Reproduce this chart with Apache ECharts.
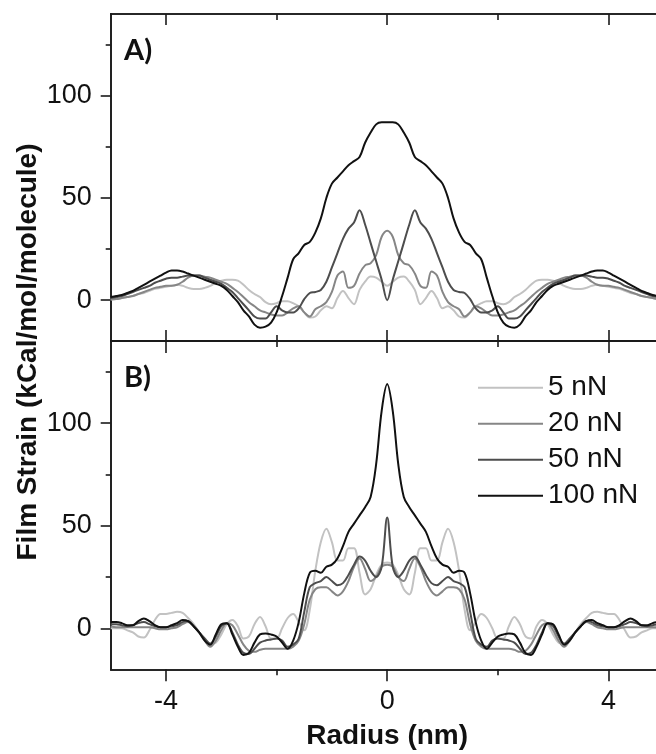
<!DOCTYPE html>
<html>
<head>
<meta charset="utf-8">
<script src="https://cdn.jsdelivr.net/npm/echarts@6/dist/echarts.min.js"></script>
<style>
html,body{margin:0;padding:0;background:#fff;}
#chart{width:656px;height:754px;}
</style>
</head>
<body>
<div id="chart"></div>
<script>
// Radius (nm)
const radius = [-5,-4.9,-4.8,-4.7,-4.6,-4.5,-4.4,-4.3,-4.2,-4.1,-4,-3.9,-3.8,-3.7,-3.6,-3.5,-3.4,-3.3,-3.2,-3.1,-3,-2.9,-2.8,-2.7,-2.6,-2.5,-2.4,-2.3,-2.2,-2.1,-2,-1.9,-1.8,-1.7,-1.6,-1.5,-1.4,-1.3,-1.2,-1.1,-1,-0.9,-0.8,-0.7,-0.6,-0.5,-0.4,-0.3,-0.2,-0.1,0,0.1,0.2,0.3,0.4,0.5,0.6,0.7,0.8,0.9,1,1.1,1.2,1.3,1.4,1.5,1.6,1.7,1.8,1.9,2,2.1,2.2,2.3,2.4,2.5,2.6,2.7,2.8,2.9,3,3.1,3.2,3.3,3.4,3.5,3.6,3.7,3.8,3.9,4,4.1,4.2,4.3,4.4,4.5,4.6,4.7,4.8,4.9,5];

// Panel A
const a5 = [0.3,0.5,1,1.5,2,3,3.5,4.5,5.5,6,6.5,7,7.5,7,6,5.5,5.5,6,7,8.5,9.5,10,10,9.5,7.5,5,3,1.5,-1,-2,-1.5,-0.5,-0.5,-1.5,-3,-6,-8.5,-8,-5,-3,-4,1,4.5,1,-2,5,9,11.5,11,9,
  7,9,11,11.5,9,5,-2,1,4.5,1,-4,-3,-5,-8,-8.5,-6,-3,-1.5,-0.5,-0.5,-1.5,-2,-1,1.5,3,5,7.5,9.5,10,10,9.5,8.5,7,6,5.5,5.5,6,7,7.5,7,6.5,6,5.5,4.5,3.5,3,2,1.5,1,0.5,0.3];
const a20 = [0.3,0.5,1,1.5,2,3,4,5,6,6.5,7,7,7.5,9,11,12,12,11.5,11,10,9,8,6,4,1.5,-1,-3,-5,-6,-7,-7.5,-7.5,-6,-4,-3,-6,-8,-4.5,-3,-1,4,12,14,6,7,13,17,18,22,31,
  34,31,22,18,17,13,7,6,14,12,4,-1,-3,-4.5,-8,-6,-3,-4,-6,-7.5,-7.5,-7,-6,-5,-3,-1,1.5,4,6,8,9,10,11,11.5,12,12,11,9,7.5,7,7,6.5,6,5,4,3,2,1.5,1,0.5,0.3];
const a50 = [1,1.5,2,3,4,5,6,7,8.5,9.5,10.5,11,11,11.5,12,12,12,11,10,9,8,6,4,1,-2,-5,-8,-9,-9,-6,-3,-5,-6,-6,-4,0.5,3.5,4,5,9,16,23,30,35,38,44,37,28,19,10,
  0,10,19,28,37,44,38,35,30,23,16,9,5,4,3.5,0.5,-4,-6,-6,-5,-3,-6,-9,-9,-8,-5,-2,1,4,6,8,9,10,11,12,12,12,11.5,11,11,10.5,9.5,8.5,7,6,5,4,3,2,1.5,1];
const a100 = [1.5,2,2.5,3.5,4.5,6,7.5,9,10.5,12,13.5,14.5,14.5,14,13,12,11,10,9,8,7,5,2,-1,-5,-8,-12,-13.5,-13,-11,-6,2,11,20,23,27,28.5,33,40,50,57,60,63,66,68,70,77,82,86,87,
  87,87,86,82,77,70,68,66,63,60,57,50,40,33,28.5,27,23,20,11,2,-6,-11,-13,-13.5,-12,-8,-5,-1,2,5,7,8,9,10,11,12,13,14,14.5,14.5,13.5,12,10.5,9,7.5,6,4.5,3.5,2.5,2,1.5];

// Panel B
const b5 = [0,0,0,-1,-2,-4,-4.5,-1,4,7,7,7.5,8,7.5,5,2,-2,-6,-7.5,-7,-3,2,4,1,-5,-4,2,5.5,1,-5,-5,0,5,7,3,-1,9,28,42,48.5,42,33,33,39,39,27,16.5,19,26,31,
  32,31,26,19,16.5,27,39,39,33,33,42,48.5,42,28,9,-1,3,7,5,0,-5,-5,1,5.5,2,-4,-5,1,4,2,-3,-7,-7.5,-6,-2,2,5,7.5,8,7.5,7,7,4,-1,-4.5,-4,-2,-1,0,0,0];
const b20 = [1,0.5,0.5,0.5,0.5,0.5,0.5,0.5,0,-0.5,-0.5,0,0.5,2,3,1,-2,-6,-9,-6,-1,2.5,1.5,-3,-8,-11,-11.5,-10.5,-10,-10,-10,-10,-10,-9,-6,2,14,19,20,20,18,16,18,23,30,34,29,23,25,30,
  31,30,25,23,29,34,30,23,18,16,18,20,20,19,14,2,-6,-9,-10,-10,-10,-10,-10,-10.5,-11.5,-11,-8,-3,1.5,2.5,-1,-6,-9,-6,-2,1,3,2,0.5,0,-0.5,-0.5,0,0.5,0.5,0.5,0.5,0.5,0.5,0.5,1];
const b50 = [2,2,1.5,1,1.5,2.5,3,2,1,0.5,0.5,1,1.5,3,3.5,1,-2,-5,-7.5,-4,1,2.5,-2,-8,-12,-12.5,-10,-7,-6,-5.5,-5,-6,-9,-8,-5,8,20,22,23,25,23,21,22,26,31,35,33,28,25,30,
  54,30,25,28,33,35,31,26,22,21,23,25,23,22,20,8,-5,-8,-9,-6,-5,-5.5,-6,-7,-10,-12.5,-12,-8,-2,2.5,1,-4,-7.5,-5,-2,1,3.5,3,1.5,1,0.5,0.5,1,2,3,2.5,1.5,1,1.5,2,2];
const b100 = [3,3,2.5,1.5,1.5,3.5,4.8,3.5,1.5,0.5,0.5,1.5,2.5,4,3.5,1,-2,-6,-8,-3,2,2.5,-3,-9,-13,-12,-7,-3,-2.5,-3,-4,-7,-10,-6,3,17,27,28,27,30,31,34,40,47,51,55,59,64,80,106,
  119,106,80,64,59,55,51,47,40,34,31,30,27,28,27,17,3,-6,-10,-7,-4,-3,-2.5,-3,-7,-12,-13,-9,-3,2.5,2,-3,-8,-6,-2,1,3.5,4,2.5,1.5,0.5,0.5,1.5,3.5,4.8,3.5,1.5,1.5,2.5,3,3];

const seriesNames = ['5 nN','20 nN','50 nN','100 nN'];
const seriesColors = ['#c2c2c2','#868686','#4d4d4d','#111111'];
const xMajorTicks = [-4,0,4];
const xMinorTicks = [-2,2];
const yMajorTicks = [0,50,100];
const yMinorTicks = [25,75,125];

const chart = echarts.init(document.getElementById('chart'), null, {renderer:'canvas'});

const AX = '#1a1a1a';
const FONT = '"Liberation Sans", Arial, sans-serif';

function xAx(grid, pos, vals, len, labels, extra) {
  return Object.assign({
    type:'value', gridIndex:grid, position:pos, min:-5, max:5,
    axisLine:{show:true, onZero:false, lineStyle:{color:AX, width:1.6}},
    axisTick:{show:true, inside:false, length:len, customValues:vals, lineStyle:{color:AX, width:1.6}},
    axisLabel:labels ? {show:true, customValues:vals, fontSize:27, color:'#111', fontFamily:FONT, margin:19} : {show:false},
    splitLine:{show:false}
  }, extra||{});
}
function yAx(grid, vals, len, labels) {
  return {
    type:'value', gridIndex:grid, position:'left', min:-20, max:140,
    axisLine:{show:true, onZero:false, lineStyle:{color:AX, width:1.6}},
    axisTick:{show:true, inside:false, length:len, customValues:vals, lineStyle:{color:AX, width:1.6}},
    axisLabel:labels ? {show:true, customValues:vals, fontSize:27, color:'#111', fontFamily:FONT, margin:19} : {show:false},
    splitLine:{show:false}
  };
}

const xAxes = [
  xAx(0,'top',xMajorTicks,11,false),
  xAx(0,'top',xMinorTicks,6,false),
  xAx(0,'bottom',xMajorTicks,12,false),
  xAx(0,'bottom',xMinorTicks,6,false),
  xAx(1,'top',xMajorTicks,11,false),
  xAx(1,'top',xMinorTicks,6,false),
  xAx(1,'bottom',xMajorTicks,12,true,{name:'Radius (nm)', nameLocation:'middle', nameGap:53,
     nameTextStyle:{fontSize:28, fontWeight:'bold', color:'#111', fontFamily:FONT}}),
  xAx(1,'bottom',xMinorTicks,6,false)
];
xAxes[0].axisTick.inside = true;
xAxes[1].axisTick.inside = true;

const yAxes = [
  yAx(0,yMajorTicks,10,true),
  yAx(0,yMinorTicks,5,false),
  yAx(1,yMajorTicks,10,true),
  yAx(1,yMinorTicks,5,false)
];

const panelA = [a5,a20,a50,a100];
const panelB = [b5,b20,b50,b100];
const series = [];
function addSeries(arrs, xi, yi) {
  arrs.forEach((arr, k) => {
    series.push({
      type:'line', name:seriesNames[k], xAxisIndex:xi, yAxisIndex:yi,
      data: radius.map((x,i)=>[x, arr[i]]),
      showSymbol:false, smooth:0.35, color:seriesColors[k],
      lineStyle:{color:seriesColors[k], width:2}, itemStyle:{color:seriesColors[k]},
      clip:true, silent:true, animation:false
    });
  });
}
addSeries(panelA, 2, 0);
addSeries(panelB, 6, 2);

chart.setOption({
  animation:false,
  backgroundColor:'#fff',
  grid:[
    {left:110.7, top:14, width:553, height:327, containLabel:false, outerBoundsMode:'none'},
    {left:110.7, top:341, width:553, height:328.3, containLabel:false, outerBoundsMode:'none'}
  ],
  xAxis:xAxes,
  yAxis:yAxes,
  legend:{
    data:seriesNames, orient:'vertical', left:473, top:364.7,
    icon:'rect', itemWidth:65, itemHeight:2, itemGap:0,
    textStyle:{fontSize:28, color:'#111', fontFamily:FONT, lineHeight:36},
    selectedMode:false
  },
  graphic:[
    {type:'text', x:28.5, y:352, rotation:Math.PI/2,
     style:{text:'Film Strain (kCal/mol/molecule)', fontSize:28, fontWeight:'bold', fill:'#111', fontFamily:FONT,
            textAlign:'center', textVerticalAlign:'middle'}},
    {type:'text', x:124, y:51, style:{text:'A)', fontSize:29, fontWeight:'bold', fill:'#111', fontFamily:'Lato, "Open Sans", sans-serif', textAlign:'left', textVerticalAlign:'middle'}},
    {type:'text', x:124, y:378, style:{text:'B)', fontSize:29, fontWeight:'bold', fill:'#111', fontFamily:'Lato, "Open Sans", sans-serif', textAlign:'left', textVerticalAlign:'middle'}}
  ],
  series:series
});
</script>
</body>
</html>
